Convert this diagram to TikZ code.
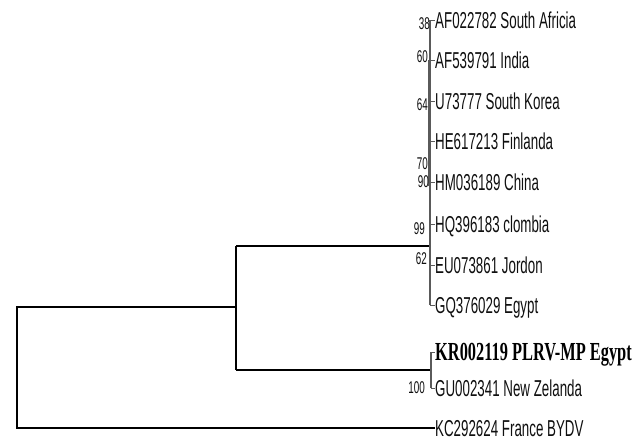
\documentclass[tikz,border=0pt]{standalone}
\usepackage{fontspec}
\usepackage{tikz}
\usetikzlibrary{calc, positioning}
\newfontfamily\tipfont{Liberation Sans}[FakeStretch=0.58]
\newfontfamily\kfont{Liberation Serif}[FakeStretch=0.63]
\definecolor{tipcol}{RGB}{15,15,15}
\definecolor{twigcol}{RGB}{90,90,90}

\begin{document}
\begin{tikzpicture}[x=1pt, y=-1pt,
    branch/.style={line width=1.6pt, black},
    twig/.style={line width=1.1pt, twigcol},
    tip/.style={font=\tipfont\fontsize{23}{23}\selectfont, tipcol, anchor=west,
                inner sep=0pt, text height=16.5pt, text depth=0pt},
    boot/.style={font=\tipfont\fontsize{17}{17}\selectfont, tipcol, anchor=east,
                 inner sep=0pt, text height=12.2pt, text depth=0pt}]
\useasboundingbox (0,0) rectangle (636,440);
% tips
\foreach \tn/\lab/\yy in {t1/AF022782 South Africia/20, t2/AF539791 India/60,
    t3/U73777 South Korea/101, t4/HE617213 Finlanda/141, t5/HM036189 China/182,
    t6/HQ396183 clombia/224, t7/EU073861 Jordon/265, t8/GQ376029 Egypt/305,
    t10/GU002341 New Zelanda/388, t11/KC292624 France BYDV/428} {
  \node[tip] (\tn) at (435,\yy) {\lab};
}
\node[tip, font=\kfont\bfseries\fontsize{26}{26}\selectfont, black,
      text height=17.2pt] (t9) at (435,352) {KR002119 PLRV-MP Egypt};
% internal nodes
\coordinate (root) at (17,307);
\coordinate (inner) at (236,307);
\coordinate (cladeA) at (430,246);
\coordinate (cladeB) at (431,370);
\coordinate (cladeC) at (429,186);
% branches
\draw[branch] (t11.west) -- (root |- t11.west) -- (root) -- (inner);
\draw[branch] (inner |- cladeA) -- (inner |- cladeB);
\draw[branch] (inner |- cladeA) -- (cladeA);
\draw[branch] (inner |- cladeB) -- (cladeB);
\draw[twig] (cladeA |- t1.west) -- (cladeA |- t8.west);
\draw[twig] (cladeC |- t2.west) -- (cladeC);
\draw[twig, line width=1.3pt] (cladeB |- t9.west) -- (cladeB |- t10.west);
\foreach \tn in {t1,t2,t3,t4,t5,t6,t7,t8} {
  \draw[twig, line width=0.5pt] (cladeA |- \tn.west) -- (\tn.west);
}
\foreach \tn in {t9,t10} {
  \draw[twig, line width=0.5pt] (cladeB |- \tn.west) -- (\tn.west);
}
% bootstrap values
\node[boot] (b38) at (430,23) {38};
\node[boot] (b60) at (428,56) {60};
\node[boot] (b64) at (428,104) {64};
\node[boot] (b70) at (428,163) {70};
\node[boot] (b90) at (429,181) {90};
\node[boot] (b99) at (425,228) {99};
\node[boot] (b62) at (427,258) {62};
\node[boot] (b100) at (425,387) {100};
\end{tikzpicture}
\end{document}
